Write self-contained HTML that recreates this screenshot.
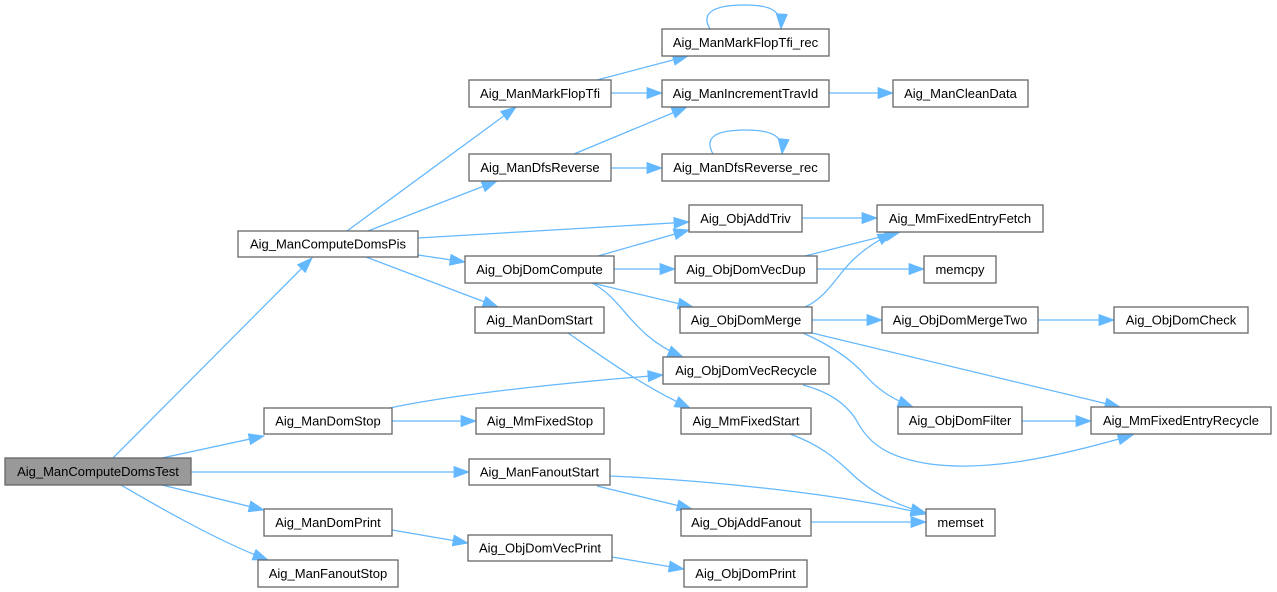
<!DOCTYPE html>
<html><head><meta charset="utf-8"><style>
html,body{margin:0;padding:0;background:#fff;}
svg{display:block;}
text{font-family:"Liberation Sans",Arial,sans-serif;font-size:13px;fill:#000;text-anchor:middle;}
.n{fill:#fff;stroke:#666;stroke-width:1.3;}
.g{fill:#999;stroke:#666;stroke-width:1.3;}
.e{fill:none;stroke:#63b8ff;stroke-width:1.25;}
</style></head><body>
<svg width="1277" height="592" viewBox="0 0 1277 592" xmlns="http://www.w3.org/2000/svg">
<defs>
<marker id="a" markerUnits="userSpaceOnUse" markerWidth="17" markerHeight="13" refX="15.5" refY="6" orient="auto">
<path d="M0.5,0.5 L15.5,6 L0.5,11.5 z" fill="#63b8ff" stroke="#63b8ff" stroke-width="0.8"/>
</marker>
</defs>
<g marker-end="url(#a)">
<path class="e" d="M113,458 L312,258"/>
<path class="e" d="M162,458 L264,436"/>
<path class="e" d="M191,472 L469,472"/>
<path class="e" d="M162,485 L264,510"/>
<path class="e" d="M121,485 C150,502 215,540 268,560"/>
<path class="e" d="M347,231 L516,107"/>
<path class="e" d="M368,231 L497,181"/>
<path class="e" d="M418,238 L689,222"/>
<path class="e" d="M418,255 L465,262"/>
<path class="e" d="M366,257 L498,307"/>
<path class="e" d="M597,80 L688,56"/>
<path class="e" d="M611,93 L662,93"/>
<path class="e" d="M710,29 C700,12 715,5 745,5 C770,5 782,10 781,29"/>
<path class="e" d="M574,154 L687,107"/>
<path class="e" d="M611,168 L662,168"/>
<path class="e" d="M713,154 C703,136 718,130 746,130 C772,130 784,136 782,154"/>
<path class="e" d="M829,93 L893,93"/>
<path class="e" d="M802,218 L877,218"/>
<path class="e" d="M598,256 L689,230"/>
<path class="e" d="M614,269 L675,269"/>
<path class="e" d="M592,283 L693,307"/>
<path class="e" d="M592,283 C625,300 630,335 683,357"/>
<path class="e" d="M805,256 L900,232"/>
<path class="e" d="M817,269 L924,269"/>
<path class="e" d="M805,307 C828,297 838,273 855,258 C866,248 878,240 893,233"/>
<path class="e" d="M812,320 L882,320"/>
<path class="e" d="M803,333 C830,345 850,358 865,375 C880,392 895,400 913,407"/>
<path class="e" d="M812,333 L1120,407"/>
<path class="e" d="M1038,320 L1114,320"/>
<path class="e" d="M1022,421 L1091,421"/>
<path class="e" d="M803,385 C830,392 848,405 858,423 C870,445 890,458 930,464 C990,472 1060,456 1133,435"/>
<path class="e" d="M568,333 C600,355 640,385 690,408"/>
<path class="e" d="M390,408 C450,395 560,383 663,375"/>
<path class="e" d="M392,421 L476,421"/>
<path class="e" d="M790,434 C820,445 835,458 850,472 C870,492 895,505 926,513"/>
<path class="e" d="M610,476 C700,480 830,492 926,514"/>
<path class="e" d="M597,486 L692,509"/>
<path class="e" d="M811,522 L926,522"/>
<path class="e" d="M392,530 L468,543"/>
<path class="e" d="M612,557 L684,569"/>
</g>

<rect class="g" x="5" y="458" width="186" height="27"/><text x="98" y="476">Aig_ManComputeDomsTest</text>
<rect class="n" x="238" y="231" width="180" height="26"/><text x="328" y="248.5">Aig_ManComputeDomsPis</text>
<rect class="n" x="264" y="408" width="128" height="26"/><text x="328" y="425.5">Aig_ManDomStop</text>
<rect class="n" x="264" y="509" width="128" height="27"/><text x="328" y="527">Aig_ManDomPrint</text>
<rect class="n" x="258" y="560" width="140" height="27"/><text x="328" y="578">Aig_ManFanoutStop</text>
<rect class="n" x="662" y="29" width="167" height="27"/><text x="745.5" y="47">Aig_ManMarkFlopTfi_rec</text>
<rect class="n" x="469" y="80" width="142" height="27"/><text x="540" y="98">Aig_ManMarkFlopTfi</text>
<rect class="n" x="662" y="80" width="167" height="27"/><text x="745.5" y="98">Aig_ManIncrementTravId</text>
<rect class="n" x="469" y="154" width="142" height="27"/><text x="540" y="172">Aig_ManDfsReverse</text>
<rect class="n" x="662" y="154" width="167" height="27"/><text x="745.5" y="172">Aig_ManDfsReverse_rec</text>
<rect class="n" x="893" y="80" width="135" height="27"/><text x="960.5" y="98">Aig_ManCleanData</text>
<rect class="n" x="877" y="205" width="166" height="27"/><text x="960" y="223">Aig_MmFixedEntryFetch</text>
<rect class="n" x="924" y="256" width="72" height="27"/><text x="960" y="274">memcpy</text>
<rect class="n" x="689" y="205" width="113" height="27"/><text x="745.5" y="223">Aig_ObjAddTriv</text>
<rect class="n" x="465" y="256" width="149" height="27"/><text x="539.5" y="274">Aig_ObjDomCompute</text>
<rect class="n" x="675" y="256" width="142" height="27"/><text x="746" y="274">Aig_ObjDomVecDup</text>
<rect class="n" x="475" y="307" width="129" height="26"/><text x="539.5" y="324.5">Aig_ManDomStart</text>
<rect class="n" x="680" y="307" width="132" height="26"/><text x="746" y="324.5">Aig_ObjDomMerge</text>
<rect class="n" x="882" y="307" width="156" height="26"/><text x="960" y="324.5">Aig_ObjDomMergeTwo</text>
<rect class="n" x="1114" y="307" width="134" height="26"/><text x="1181" y="324.5">Aig_ObjDomCheck</text>
<rect class="n" x="898" y="407" width="124" height="27"/><text x="960" y="425">Aig_ObjDomFilter</text>
<rect class="n" x="1091" y="407" width="180" height="27"/><text x="1181" y="425">Aig_MmFixedEntryRecycle</text>
<rect class="n" x="663" y="357" width="166" height="27"/><text x="746" y="375">Aig_ObjDomVecRecycle</text>
<rect class="n" x="476" y="408" width="128" height="26"/><text x="540" y="425.5">Aig_MmFixedStop</text>
<rect class="n" x="681" y="408" width="130" height="26"/><text x="746" y="425.5">Aig_MmFixedStart</text>
<rect class="n" x="469" y="459" width="141" height="26"/><text x="539.5" y="476.5">Aig_ManFanoutStart</text>
<rect class="n" x="681" y="509" width="130" height="27"/><text x="746" y="527">Aig_ObjAddFanout</text>
<rect class="n" x="468" y="535" width="144" height="26"/><text x="540" y="552.5">Aig_ObjDomVecPrint</text>
<rect class="n" x="684" y="560" width="123" height="27"/><text x="745.5" y="578">Aig_ObjDomPrint</text>
<rect class="n" x="926" y="509" width="69" height="27"/><text x="960.5" y="527">memset</text>
</svg>
</body></html>
